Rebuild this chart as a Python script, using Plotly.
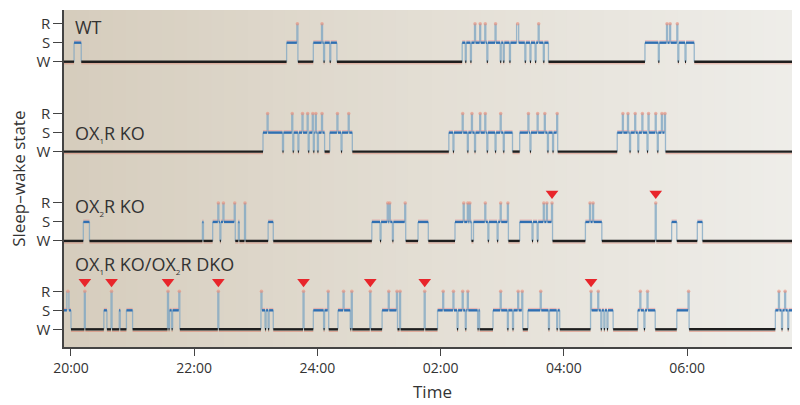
import plotly.graph_objects as go

# ---- data: minutes after 20:00 at which each state begins (W = wake, S = NREM, R = REM) ----
wt_t = [-7, 3, 10, 210, 220, 221, 236, 244, 245, 246, 247, 252, 253, 259,
        381, 384, 385, 389, 390, 393, 394, 398, 399, 403, 404, 405, 406, 413, 414, 418, 419, 421, 422,
        427, 428, 434, 436, 442, 443, 447, 448, 452, 453, 455, 456, 460, 461, 465,
        559, 572, 573, 580, 581, 583, 584, 590, 591, 592, 598, 599, 607]
wt_s = ["W", "S", "W", "S", "R", "W", "S", "R", "S", "W", "S", "W", "S", "W",
        "S", "W", "S", "W", "S", "R", "S", "R", "S", "R", "S", "W", "S", "R", "S", "W", "S", "W", "S",
        "W", "S", "R", "S", "W", "S", "W", "S", "W", "S", "R", "S", "W", "S", "W",
        "S", "W", "S", "R", "S", "R", "S", "R", "W", "S", "W", "S", "W"]

ox1_t = [-7, 187, 191, 192, 206, 207, 215, 216, 217, 221, 222, 225, 226, 230, 231, 232, 235, 236, 237,
         238, 239, 240, 241, 244, 245, 247, 252, 259, 260, 263, 264, 270, 271, 274,
         368, 372, 373, 381, 382, 386, 387, 390, 391, 393, 394, 398, 399, 403, 404, 405, 406, 413, 414,
         418, 419, 421, 422, 430, 437, 445, 446, 447, 448, 454, 455, 461, 462, 464, 465, 469, 470, 473, 474,
         532, 537, 538, 542, 543, 544, 545, 549, 550, 552, 553, 556, 557, 561, 562, 563, 569, 570, 571,
         572, 575, 576, 578, 579]
ox1_s = ["W", "S", "R", "S", "W", "S", "R", "W", "S", "W", "S", "R", "S", "R", "W", "S", "R", "W", "S",
         "R", "S", "W", "S", "R", "S", "W", "S", "R", "S", "W", "S", "R", "S", "W",
         "S", "W", "S", "R", "S", "W", "S", "R", "S", "W", "S", "R", "S", "R", "S", "W", "S", "W", "S",
         "R", "S", "W", "S", "W", "S", "R", "S", "W", "S", "R", "S", "R", "S", "W", "S", "W", "S", "R", "W",
         "S", "R", "S", "R", "S", "W", "S", "R", "S", "W", "S", "R", "S", "W", "R", "S", "R", "S", "W",
         "S", "R", "S", "R", "W"]

ox2_t = [-7, 12, 18, 128, 129, 138, 143, 144, 145, 146, 148, 149, 159, 160, 163, 164, 169, 170,
         192, 197, 293, 301, 302, 308, 309, 310, 311, 313, 314, 325, 326, 338, 348,
         374, 382, 383, 386, 387, 388, 389, 390, 392, 403, 404, 406, 407, 415, 416, 418, 419, 425, 426,
         437, 449, 450, 454, 455, 460, 461, 463, 464, 468, 469,
         501, 505, 506, 508, 509, 517, 569, 570, 585, 590, 610, 615, 707]
ox2_s = ["W", "S", "W", "S", "W", "S", "R", "S", "W", "S", "R", "S", "R", "W", "S", "W", "R", "W",
         "S", "W", "S", "W", "S", "R", "S", "R", "S", "W", "S", "R", "W", "S", "W",
         "S", "R", "S", "R", "S", "R", "S", "W", "S", "R", "S", "W", "S", "W", "S", "R", "S", "R", "W",
         "S", "W", "S", "W", "S", "R", "S", "R", "S", "R", "W",
         "S", "R", "S", "R", "S", "W", "R", "W", "S", "W", "S", "W", "S"]
ox2_arrows = [468.5, 569.5]

dko_t = [-7, -4, -2, 0, 13, 14, 32, 35, 39, 40, 47, 48, 54, 60, 94, 95, 96, 98, 99, 105, 106,
         143, 144, 185, 186, 189, 190, 192, 193, 197, 226, 227, 236, 246, 247, 250, 251, 260, 265,
         266, 272, 273, 274, 291, 292, 303, 309, 310, 317, 318, 320, 321, 344, 345,
         357, 362, 363, 372, 373, 376, 377, 381, 382, 384, 385, 386, 387, 396, 397, 398,
         411, 418, 419, 425, 426, 430, 431, 435, 436, 439, 440, 445, 457, 458, 465, 466, 473, 474, 476,
         506, 507, 513, 514, 516, 517, 519, 520, 522, 523, 528, 552, 554, 555, 558, 559, 561, 562, 569,
         590, 601, 602, 686, 689, 690, 692, 693, 695, 696, 698, 699]
dko_s = ["S", "R", "S", "W", "R", "W", "S", "W", "R", "W", "S", "W", "S", "W", "R", "W", "S", "W", "S", "R", "W",
         "R", "W", "R", "S", "W", "S", "W", "S", "W", "R", "W", "S", "W", "S", "R", "W", "S", "R",
         "S", "W", "R", "W", "R", "W", "S", "R", "S", "R", "W", "R", "W", "R", "W",
         "S", "R", "S", "R", "S", "W", "S", "R", "S", "W", "S", "R", "S", "W", "S", "W",
         "S", "R", "S", "W", "S", "W", "S", "R", "S", "R", "W", "S", "R", "S", "W", "S", "W", "S", "W",
         "R", "S", "R", "S", "W", "S", "W", "S", "W", "S", "W", "S", "R", "S", "W", "S", "R", "S", "W",
         "S", "R", "W", "S", "R", "S", "W", "S", "R", "S", "W", "S"]
dko_arrows = [13.5, 39.5, 94.5, 143.5, 226.5, 291.5, 344.5, 506.5]

SUB1 = "<sub><span style='font-size:8px'>1</span></sub>"
SUB2 = "<sub><span style='font-size:8px'>2</span></sub>"
panel_labels = ["WT", "OX" + SUB1 + "R KO", "OX" + SUB2 + "R KO", "OX" + SUB1 + "R KO/OX" + SUB2 + "R DKO"]
tick_vals_min = [0, 120, 240, 360, 480, 600]
tick_text = ["20:00", "22:00", "24:00", "02:00", "04:00", "06:00"]
state_names = ["W", "S", "R"]
END_MIN = 712

panels = [(wt_t, wt_s, []), (ox1_t, ox1_s, []), (ox2_t, ox2_s, ox2_arrows), (dko_t, dko_s, dko_arrows)]
offsets = [14.08, 9.35, 4.65, 0.0]
label_y = [15.9, 10.28, 6.44, 3.39]
LV = {"W": 0, "S": 1, "R": 2}

wx, wy, sx, sy, vx, vy, rx, ry, shx, shy, spx, spy, ax, ay = ([] for _ in range(14))
for (ts, ss, arr), off in zip(panels, offsets):
    for i, (t, s) in enumerate(zip(ts, ss)):
        t1 = ts[i + 1] if i + 1 < len(ts) else END_MIN
        y = off + LV[s]
        if i > 0:
            vx += [t, t, None]
            vy += [off + LV[ss[i - 1]], y, None]
        if s == "W":
            wx += [t, t1, None]; wy += [y, y, None]
            shx += [t, t1, None]; shy += [y - 0.11, y - 0.11, None]
        elif s == "S":
            sx += [t, t1, None]; sy += [y, y, None]
            spx += [t, t1, None]; spy += [y + 0.1, y + 0.1, None]
        else:
            rx.append((t + t1) / 2); ry.append(y)
    for a in arr:
        ax.append(a); ay.append(off + 2.5)

fig = go.Figure()
# background gradient (photographed paper look)
n = 60
c0, c1, c2 = (214, 205, 189), (228, 223, 213), (239, 238, 234)
for k in range(n):
    f = (k + 0.5) / n
    if f < 0.5:
        g = f / 0.5; c = [c0[j] + (c1[j] - c0[j]) * g for j in range(3)]
    else:
        g = (f - 0.5) / 0.5; c = [c1[j] + (c2[j] - c1[j]) * g for j in range(3)]
    fig.add_shape(type="rect", xref="paper", yref="paper", x0=k / n, x1=(k + 1) / n + 0.002, y0=0, y1=1,
                  fillcolor="rgb(%d,%d,%d)" % tuple(int(v) for v in c), line_width=0, layer="below")

fig.add_trace(go.Scatter(x=vx, y=vy, mode="lines", line=dict(color="rgba(125,165,195,0.75)", width=1.3)))
fig.add_trace(go.Scatter(x=shx, y=shy, mode="lines", line=dict(color="rgba(220,110,90,0.5)", width=1)))
fig.add_trace(go.Scatter(x=spx, y=spy, mode="lines", line=dict(color="rgba(230,120,130,0.45)", width=1)))
fig.add_trace(go.Scatter(x=wx, y=wy, mode="lines", line=dict(color="#1e1e1e", width=2.4)))
fig.add_trace(go.Scatter(x=sx, y=sy, mode="lines", line=dict(color="#2f6fb2", width=2.4)))
fig.add_trace(go.Scatter(x=rx, y=ry, mode="markers", marker=dict(color="rgba(235,140,120,0.6)", size=3.5, line_width=0)))
fig.add_trace(go.Scatter(x=ax, y=ay, mode="markers",
                         marker=dict(symbol="triangle-down", color="#e8252b", size=11, line_width=0)))

yt_vals, yt_text = [], []
for off in offsets:
    for k, nme in enumerate(state_names):
        yt_vals.append(off + k); yt_text.append(nme)

annos = []
for lab, ly in zip(panel_labels, label_y):
    annos.append(dict(text=lab, x=0.012, xref="paper", y=ly, yref="y", xanchor="left", yanchor="middle",
                      showarrow=False, font=dict(size=18, color="#333333")))
annos.append(dict(text="Sleep–wake state", x=-0.062, xref="paper", xanchor="center", y=0.5, yref="paper",
                  showarrow=False, textangle=-90, font=dict(size=17, color="#333333")))
annos.append(dict(text="Time", x=0.5, xref="paper", y=-0.133, yref="paper", yanchor="middle", showarrow=False,
                  font=dict(size=17, color="#333333")))

fig.update_layout(
    width=792, height=397, margin=dict(l=56, r=0, t=2, b=58),
    paper_bgcolor="white", plot_bgcolor="#e3ded4", showlegend=False, hovermode=False,
    font=dict(family="Open Sans", color="#333333"),
    annotations=annos,
    xaxis=dict(range=[-6.8, 710], tickvals=tick_vals_min, ticktext=tick_text, ticks="outside", ticklen=7,
               tickcolor="#444", showline=True, linecolor="#444", linewidth=1.5, showgrid=False,
               zeroline=False, tickfont=dict(size=14, color="#333333")),
    yaxis=dict(range=[-0.93, 16.8], tickvals=yt_vals, ticktext=yt_text, ticks="outside", ticklen=9,
               tickcolor="#444", showline=True, linecolor="#444", linewidth=1.5, showgrid=False,
               zeroline=False, tickfont=dict(size=15, color="#333333")),
)
fig.write_html("out.html")
